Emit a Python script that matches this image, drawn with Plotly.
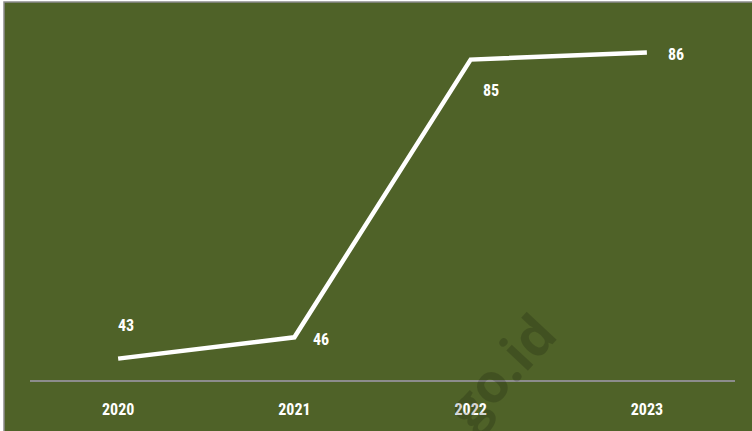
import plotly.graph_objects as go

years = ["2020", "2021", "2022", "2023"]
values = [43, 46, 85, 86]
# label offsets (px) relative to each point: (xshift, yshift)
label_offsets = [(8, 33), (27, -2), (20, -31), (29, -2)]

BG = "#4F6228"
FONT = "Liberation Sans Narrow, Roboto Condensed, Roboto, sans-serif"

fig = go.Figure()
fig.add_trace(go.Scatter(
    x=years, y=values, mode="lines",
    line=dict(color="white", width=4.5),
    hoverinfo="skip", showlegend=False,
))

annotations = []
for i, (v, (dx, dy)) in enumerate(zip(values, label_offsets)):
    annotations.append(dict(
        x=i, y=v, xref="x", yref="y", text=f"<b>{v}</b>", showarrow=False,
        xshift=dx, yshift=dy, font=dict(family=FONT, size=16, color="white"),
    ))
# watermark
annotations.append(dict(
    x=(500 - 30) / 705, y=(382 - 372) / 358, xref="paper", yref="paper",
    xanchor="center", yanchor="middle",
    text="<b>go.id</b>", showarrow=False, textangle=-47,
    font=dict(family="Open Sans, sans-serif", size=54, color="rgba(0,0,0,0.17)"),
))

fig.update_layout(
    width=752, height=431,
    margin=dict(l=30, r=17, t=24, b=49),
    paper_bgcolor="white",
    plot_bgcolor="rgba(0,0,0,0)",
    annotations=annotations,
    shapes=[dict(
        type="rect", xref="paper", yref="paper", layer="below",
        x0=(4 - 30) / 705, x1=(770 - 30) / 705,
        y0=(382 - 450) / 358, y1=(382 - 2) / 358,
        fillcolor=BG, line=dict(color="#8C8C8C", width=1.5),
    )],
    xaxis=dict(
        type="category", range=[-0.5, 3.5],
        showgrid=False, zeroline=False,
        showline=True, linecolor="#8C8C8C", linewidth=1.5,
        ticks="", ticklabelstandoff=14,
        tickfont=dict(family=FONT, size=16, color="white", weight="bold"),
    ),
    yaxis=dict(
        range=[40, 90], visible=False, showgrid=False, zeroline=False,
    ),
)

fig.write_html("out.html", config={"displayModeBar": False},
               post_script="document.body.style.margin='0';")
